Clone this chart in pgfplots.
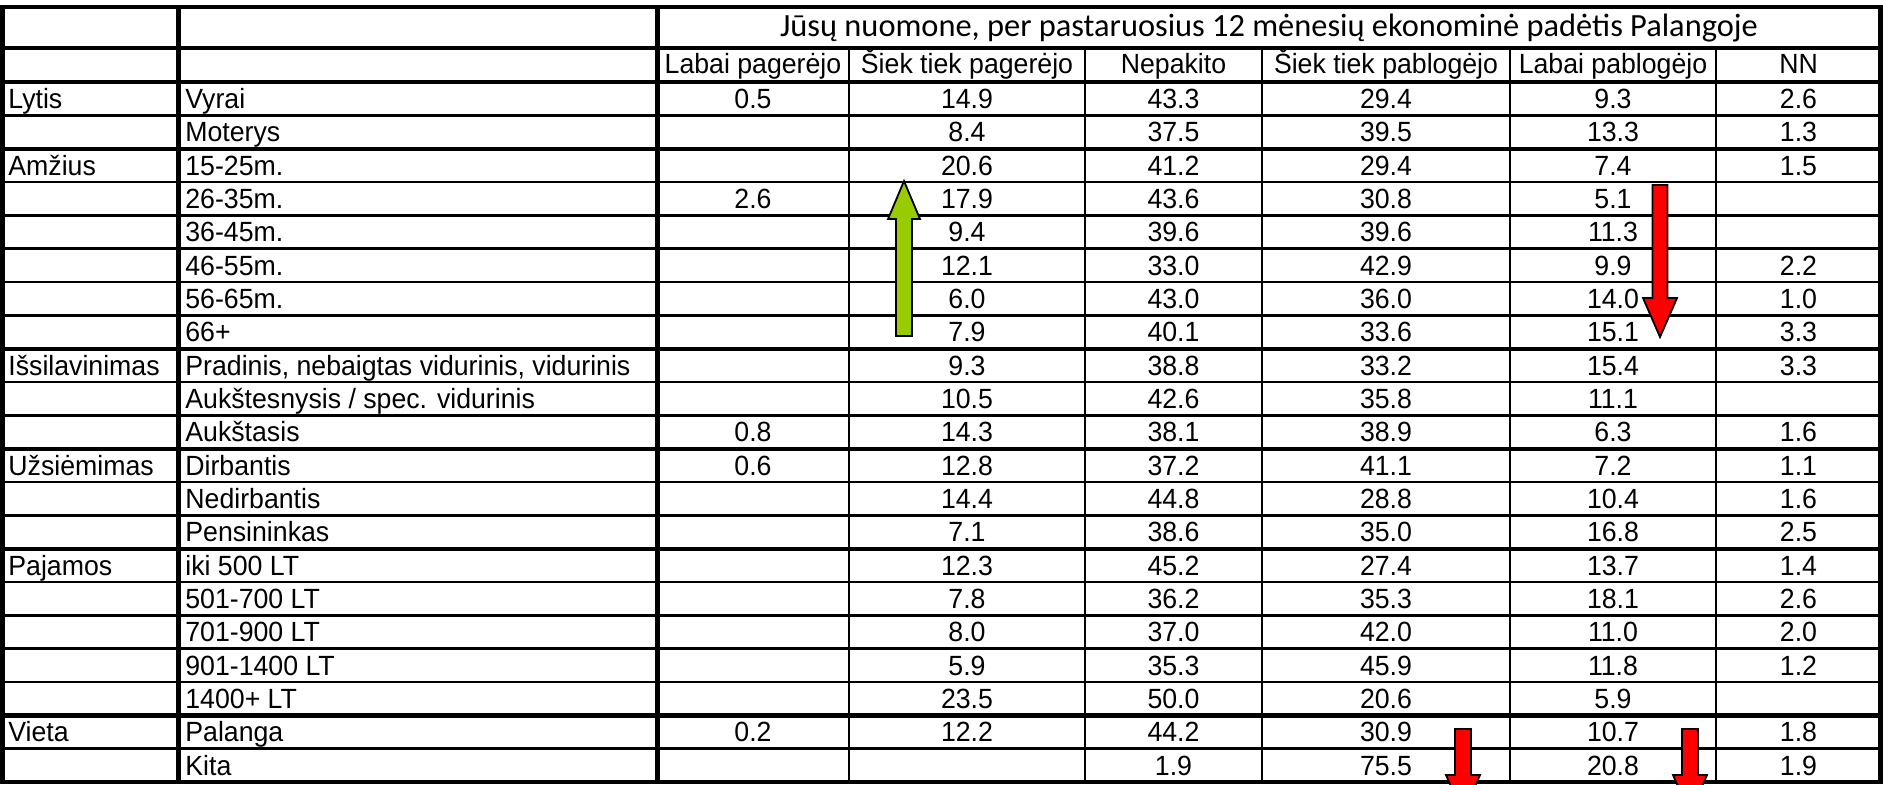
\documentclass[border=0pt]{standalone}
\usepackage{fontspec}
\setmainfont{Liberation Sans}[FakeStretch=0.96]
\newfontfamily\titlefont{Carlito}
\usepackage{pgfplots}
\usepackage{pgfplotstable}
\pgfplotsset{compat=1.18}
\definecolor{arrowgreen}{HTML}{99CC00}
\definecolor{arrowred}{HTML}{FF0000}

% row labels: group, name
\pgfplotstableread[col sep=semicolon]{
r;grp;name
0;Lytis;Vyrai
1;;Moterys
2;Amžius;15-25m.
3;;26-35m.
4;;36-45m.
5;;46-55m.
6;;56-65m.
7;;66+
8;Išsilavinimas;Pradinis, nebaigtas vidurinis, vidurinis
9;;Aukštesnysis / spec. vidurinis
10;;Aukštasis
11;Užsiėmimas;Dirbantis
12;;Nedirbantis
13;;Pensininkas
14;Pajamos;iki 500 LT
15;;501-700 LT
16;;701-900 LT
17;;901-1400 LT
18;;1400+ LT
19;Vieta;Palanga
20;;Kita
}\rowlabels

% percentages per answer column
\pgfplotstableread[col sep=semicolon]{
r;a;b;c;d;e;f
0;0.5;14.9;43.3;29.4;9.3;2.6
1;;8.4;37.5;39.5;13.3;1.3
2;;20.6;41.2;29.4;7.4;1.5
3;2.6;17.9;43.6;30.8;5.1;
4;;9.4;39.6;39.6;11.3;
5;;12.1;33.0;42.9;9.9;2.2
6;;6.0;43.0;36.0;14.0;1.0
7;;7.9;40.1;33.6;15.1;3.3
8;;9.3;38.8;33.2;15.4;3.3
9;;10.5;42.6;35.8;11.1;
10;0.8;14.3;38.1;38.9;6.3;1.6
11;0.6;12.8;37.2;41.1;7.2;1.1
12;;14.4;44.8;28.8;10.4;1.6
13;;7.1;38.6;35.0;16.8;2.5
14;;12.3;45.2;27.4;13.7;1.4
15;;7.8;36.2;35.3;18.1;2.6
16;;8.0;37.0;42.0;11.0;2.0
17;;5.9;35.3;45.9;11.8;1.2
18;;23.5;50.0;20.6;5.9;
19;0.2;12.2;44.2;30.9;10.7;1.8
20;;;1.9;75.5;20.8;1.9
}\values

\pgfplotstableread[col sep=semicolon]{
x;h
753;Labai pagerėjo
967;Šiek tiek pagerėjo
1173.5;Nepakito
1386;Šiek tiek pablogėjo
1613;Labai pablogėjo
1798.5;NN
}\heads

\begin{document}
\begin{tikzpicture}
\begin{axis}[
  hide axis, scale only axis,
  width=941.5pt, height=392pt,
  xmin=0, xmax=1883, ymin=0, ymax=784, y dir=reverse,
  unbounded coords=jump,
  txt/.style={only marks, mark=*, mark size=0pt, mark options={draw=none, fill=none},
    nodes near coords, point meta=explicit symbolic},
  nodes near coords style={inner sep=0pt, text=black, anchor=base,
    font=\fontsize{13.9}{16}\selectfont},
]
% table rules
\addplot[black, line width=1.35pt] table[row sep=\\] {
x y \\ 0 115.3 \\ 1883 115.3 \\ nan nan \\ 0 182.0 \\ 1883 182.0 \\ nan nan \\
0 215.3 \\ 1883 215.3 \\ nan nan \\ 0 248.7 \\ 1883 248.7 \\ nan nan \\
0 282.0 \\ 1883 282.0 \\ nan nan \\ 0 315.3 \\ 1883 315.3 \\ nan nan \\
0 382.0 \\ 1883 382.0 \\ nan nan \\ 0 415.3 \\ 1883 415.3 \\ nan nan \\
0 482.0 \\ 1883 482.0 \\ nan nan \\ 0 515.3 \\ 1883 515.3 \\ nan nan \\
0 582.0 \\ 1883 582.0 \\ nan nan \\ 0 615.3 \\ 1883 615.3 \\ nan nan \\
0 648.7 \\ 1883 648.7 \\ nan nan \\ 0 682.0 \\ 1883 682.0 \\ nan nan \\
0 748.7 \\ 1883 748.7 \\ nan nan \\
849 48 \\ 849 784 \\ nan nan \\ 1085 48 \\ 1085 784 \\ nan nan \\
1262 48 \\ 1262 784 \\ nan nan \\ 1510 48 \\ 1510 784 \\ nan nan \\
1716 48 \\ 1716 784 \\
};
\addplot[black, line width=2.2pt] table[row sep=\\] {
x y \\ 0 148.7 \\ 1883 148.7 \\ nan nan \\ 0 348.7 \\ 1883 348.7 \\ nan nan \\
0 448.7 \\ 1883 448.7 \\ nan nan \\ 0 548.7 \\ 1883 548.7 \\ nan nan \\
0 715.3 \\ 1883 715.3 \\ nan nan \\
0 7 \\ 1883 7 \\ nan nan \\ 0 48 \\ 1883 48 \\ nan nan \\ 0 82 \\ 1883 82 \\ nan nan \\
0 782 \\ 1883 782 \\
};
\addplot[black, line width=2.5pt] table[row sep=\\] {
x y \\ 2.5 5 \\ 2.5 784 \\ nan nan \\ 178 5 \\ 178 784 \\ nan nan \\
657 5 \\ 657 784 \\ nan nan \\ 1880.5 5 \\ 1880.5 784 \\
};
% arrows
\addplot[fill=arrowgreen, draw=black, line width=0.9pt] coordinates {
(896,336) (912,336) (912,219) (920,219) (904,181) (888,219) (896,219)} -- cycle;
\addplot[fill=arrowred, draw=black, line width=0.9pt] coordinates {
(1652.5,185) (1667.5,185) (1667.5,298) (1677,298) (1660,337) (1643,298) (1652.5,298)} -- cycle;
\addplot[fill=arrowred, draw=black, line width=0.9pt] coordinates {
(1455,729) (1471,729) (1471,775) (1480,775) (1463,814) (1446,775) (1455,775)} -- cycle;
\addplot[fill=arrowred, draw=black, line width=0.9pt] coordinates {
(1682,729) (1698,729) (1698,775) (1707,775) (1690,814) (1673,775) (1682,775)} -- cycle;
% texts
\addplot[txt, nodes near coords style={anchor=base west}] table[x expr=8, y expr=108.5+33.333*\thisrow{r}, meta=grp] {\rowlabels};
\addplot[txt, nodes near coords style={anchor=base west}] table[x expr=185, y expr=108.5+33.333*\thisrow{r}, meta=name] {\rowlabels};
\addplot[txt] table[x expr=753, y expr=108.5+33.333*\thisrow{r}, meta=a] {\values};
\addplot[txt] table[x expr=967, y expr=108.5+33.333*\thisrow{r}, meta=b] {\values};
\addplot[txt] table[x expr=1173.5, y expr=108.5+33.333*\thisrow{r}, meta=c] {\values};
\addplot[txt] table[x expr=1386, y expr=108.5+33.333*\thisrow{r}, meta=d] {\values};
\addplot[txt] table[x expr=1613, y expr=108.5+33.333*\thisrow{r}, meta=e] {\values};
\addplot[txt] table[x expr=1798.5, y expr=108.5+33.333*\thisrow{r}, meta=f] {\values};
\addplot[txt] table[x=x, y expr=73, meta=h] {\heads};
\addplot[txt, nodes near coords style={font=\titlefont\fontsize{16.2}{19}\selectfont}] coordinates {(1269,36) [Jūsų nuomone, per pastaruosius 12 mėnesių ekonominė padėtis Palangoje]};
\end{axis}
\pgfresetboundingbox
\path (current axis.south west) rectangle (current axis.north east);
\end{tikzpicture}
\end{document}
